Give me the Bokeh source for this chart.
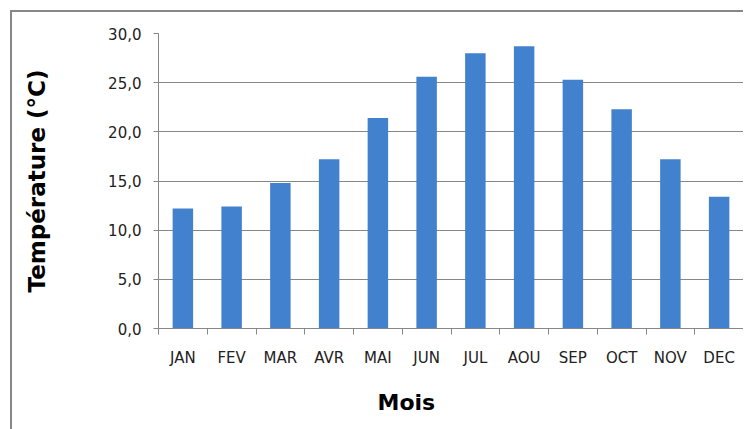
from bokeh.plotting import figure
from bokeh.models import Range1d, FixedTicker, CustomJSTickFormatter, Title, ColumnDataSource
from bokeh.embed import file_html
from bokeh.resources import INLINE
import numpy as np

months = ["JAN", "FEV", "MAR", "AVR", "MAI", "JUN", "JUL", "AOU", "SEP", "OCT", "NOV", "DEC"]
temps = [12.2, 12.4, 14.8, 17.2, 21.4, 25.6, 28.0, 28.7, 25.3, 22.3, 17.2, 13.4]
y_ticks = [0, 5, 10, 15, 20, 25, 30]
x_label = "Mois"
y_label = "Température (°C)"

grey = "#878787"
idx = np.arange(len(months))
src = ColumnDataSource(dict(x=idx + 0.5, top=temps, m=months))

p = figure(frame_width=585, frame_height=295, output_backend="svg", toolbar_location=None,
           x_range=Range1d(0, len(months)), y_range=Range1d(0, 30),
           min_border_left=146, min_border_right=0, min_border_top=21, min_border_bottom=99,
           styles={"border-top": "2px solid #878787", "border-left": "2px solid #878787",
                   "margin-left": "10px", "margin-top": "10px"})
p.outline_line_color = None
p.background_fill_color = "white"
p.border_fill_color = "white"

p.vbar(x="x", top="top", width=0.42, bottom=0, source=src, fill_color="#4281CE", line_color=None)

# x axis
p.xaxis.ticker = FixedTicker(ticks=list(idx + 0.5), minor_ticks=list(range(len(months) + 1)))
p.xaxis.major_label_overrides = {float(i + 0.5): m for i, m in zip(idx, months)}
p.xaxis.major_tick_line_color = None
p.xaxis.minor_tick_line_color = grey
p.xaxis.minor_tick_out = 6
p.xaxis.minor_tick_in = 0
p.xaxis.axis_line_color = grey
p.xaxis.major_label_text_font = "DejaVu Sans"
p.xaxis.major_label_text_font_size = "15px"
p.xaxis.major_label_text_color = "#222222"
p.xaxis.major_label_standoff = 14

# y axis
p.yaxis.ticker = FixedTicker(ticks=y_ticks)
p.yaxis.formatter = CustomJSTickFormatter(code="return tick.toFixed(1).replace('.', ',');")
p.yaxis.minor_tick_line_color = None
p.yaxis.major_tick_line_color = grey
p.yaxis.major_tick_out = 5
p.yaxis.major_tick_in = 0
p.yaxis.axis_line_color = grey
p.yaxis.major_label_text_font = "DejaVu Sans"
p.yaxis.major_label_text_font_size = "15px"
p.yaxis.major_label_text_color = "#222222"
p.yaxis.major_label_standoff = 12
p.yaxis.axis_label = y_label
p.yaxis.axis_label_text_font = "DejaVu Sans"
p.yaxis.axis_label_text_font_style = "bold"
p.yaxis.axis_label_text_font_size = "23px"
p.yaxis.axis_label_text_color = "black"
p.yaxis.axis_label_standoff = 55

p.xgrid.grid_line_color = None
p.ygrid.grid_line_color = grey
p.ygrid.grid_line_width = 1

p.add_layout(Title(text=x_label, align="left", offset=219, text_font="DejaVu Sans",
                   text_font_style="bold", text_font_size="22px", text_color="black",
                   standoff=36), "below")

open("out.html", "w").write(file_html(p, INLINE))
